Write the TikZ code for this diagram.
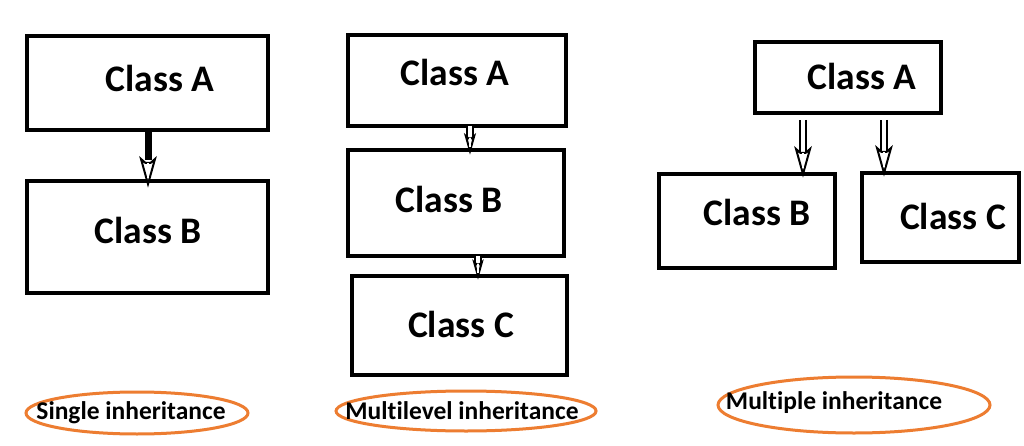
\documentclass[tikz,border=0pt]{standalone}
\usepackage{fontspec}
\setmainfont{Carlito}[Ligatures=NoCommon]
\usetikzlibrary{shapes.geometric}
\definecolor{ellorange}{RGB}{237,125,49}
\tikzset{
  cbox/.style={draw=black, line width=3.5pt, inner sep=0pt},
  ctext/.style={font=\fontsize{37.5}{42}\selectfont\bfseries},
  oval/.style={draw=ellorange, line width=3pt, ellipse, inner sep=0pt},
  otext/.style={font=\fontsize{25.5}{30}\selectfont\bfseries},
  shaft/.style={draw=black, double=white, double distance=3.2pt, line width=2pt},
  solidshaft/.style={draw=black, line width=7pt},
  ahead/.pic={\draw[line width=2pt, fill=white, line join=miter] (0,0) -- (-7,-25) -- (-2.5,-21) -- (2.5,-21) -- (7,-25) -- cycle;
              \draw[white, line width=2.4pt] (0,-6) -- (0,-21);}
}
\begin{document}
\begin{tikzpicture}[x=1pt,y=-1pt]
\useasboundingbox (0,0) rectangle (1024,446);
\fill[white] (0,0) rectangle (1024,446);
% Single inheritance
\node[cbox, minimum width=241pt, minimum height=94pt] (sA) at (147.5,83) {};
\node[ctext] (sAt) at (160,78) {Class A};
\node[cbox, minimum width=241pt, minimum height=112pt] (sB) at (147.5,237) {};
\node[ctext] (sBt) at (148,230) {Class B};
\coordinate (s1) at (148,130);
\coordinate (s1m) at (148,160);
\coordinate (s1e) at (148,184);
\draw[solidshaft] (s1) -- (s1m);
\pic at (s1e) {ahead};
% Multilevel
\node[cbox, minimum width=218pt, minimum height=91pt] (mA) at (457,80.5) {};
\node[ctext] (mAt) at (455,72) {Class A};
\node[cbox, minimum width=216pt, minimum height=106pt] (mB) at (456,203) {};
\node[ctext] (mBt) at (449,199) {Class B};
\node[cbox, minimum width=215pt, minimum height=99pt] (mC) at (459.5,325.5) {};
\node[ctext] (mCt) at (461,324) {Class C};
\coordinate (m1a) at (470,126);
\coordinate (m1b) at (470,151);
\coordinate (m2a) at (478,256);
\coordinate (m2b) at (478,276);
\draw[shaft] (m1a) -- ++(0,12);
\pic[scale=0.6] at (m1b) {ahead};
\draw[shaft] (m2a) -- ++(0,10);
\pic[scale=0.55] at (m2b) {ahead};
% Multiple
\node[cbox, minimum width=186pt, minimum height=71pt] (pA) at (848,77.5) {};
\node[ctext] (pAt) at (862,76) {Class A};
\node[cbox, minimum width=176pt, minimum height=94pt] (pB) at (747,221) {};
\node[ctext] (pBt) at (757,212) {Class B};
\node[cbox, minimum width=157pt, minimum height=89pt] (pC) at (940.5,217.5) {};
\node[ctext] (pCt) at (953,216) {Class C};
\coordinate (p1a) at (803,120);
\coordinate (p1b) at (803,174);
\coordinate (p2a) at (884,120);
\coordinate (p2b) at (884,173);
\draw[shaft] (p1a) -- ++(0,32);
\pic at (p1b) {ahead};
\draw[shaft] (p2a) -- ++(0,31);
\pic at (p2b) {ahead};
% Ellipses
\node[oval, minimum width=222pt, minimum height=42pt] (e1) at (137,413) {};
\node[otext] (e1t) at (131,413) {Single inheritance};
\node[oval, minimum width=260pt, minimum height=40pt] (e2) at (466,411) {};
\node[otext] (e2t) at (462,411) {Multilevel inheritance};
\node[oval, minimum width=272pt, minimum height=56pt] (e3) at (854,405) {};
\node[otext] (e3t) at (834,403) {Multiple inheritance};
\end{tikzpicture}
\end{document}
